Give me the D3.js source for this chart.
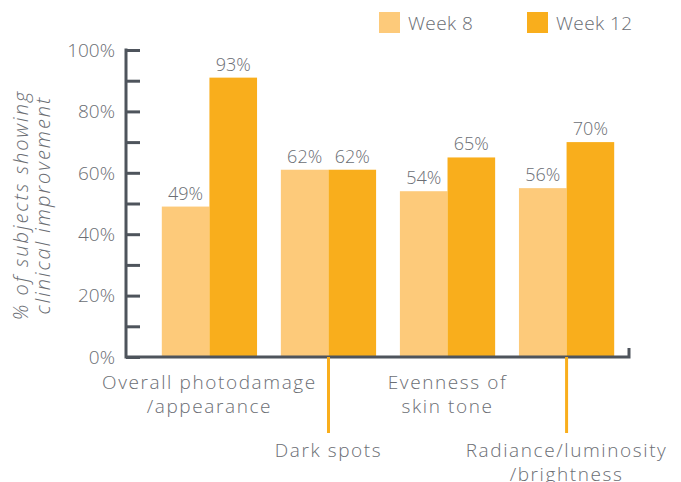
<!DOCTYPE html>
<html>
<head>
<meta charset="utf-8">
<script src="https://cdn.jsdelivr.net/npm/d3@7"></script>
<style>
  body { margin: 0; background: #fff; }
  text { font-family: "Open Sans", "DejaVu Sans", sans-serif; font-weight: 300; fill: #6b6e74; }
</style>
</head>
<body>
<svg class="chart"></svg>
<script>
var width = 681,
    height = 482;

var categories = ["Overall photodamage\n/appearance", "Dark spots", "Evenness of\nskin tone", "Radiance/luminosity\n/brightness"];
var series = ["Week 8", "Week 12"];
var week8 = [49, 61, 54, 55];
var week12 = [91, 61, 65, 70];
var week8Labels = ["49%", "62%", "54%", "56%"];
var week12Labels = ["93%", "62%", "65%", "70%"];
var yTicks = [0, 10, 20, 30, 40, 50, 60, 70, 80, 90, 100];

var colors = { "Week 8": "#fdca7a", "Week 12": "#f9ae1c" };
var axisColor = "#4e545c";

var chart = d3.select(".chart")
    .attr("width", width)
    .attr("height", height);

var y = d3.scaleLinear()
    .domain([0, 100])
    .range([357, 50]);

var x = d3.scaleBand()
    .domain(categories)
    .range([138, 638])
    .paddingInner(0.2)
    .paddingOuter(0.2);

var x1 = d3.scaleBand()
    .domain(series)
    .range([0, x.bandwidth()]);

var rows = categories.map(function(c, i) {
  return { cat: c, i: i, values: [
    { key: "Week 8", value: week8[i], label: week8Labels[i] },
    { key: "Week 12", value: week12[i], label: week12Labels[i] }
  ] };
});

// bars
var group = chart.selectAll("g.group")
    .data(rows)
  .enter().append("g")
    .attr("class", "group")
    .attr("transform", function(d) { return "translate(" + x(d.cat) + ",0)"; });

group.selectAll("rect")
    .data(function(d) { return d.values; })
  .enter().append("rect")
    .attr("x", function(d) { return x1(d.key); })
    .attr("width", x1.bandwidth())
    .attr("y", function(d) { return y(d.value); })
    .attr("height", function(d) { return y(0) - y(d.value); })
    .attr("fill", function(d) { return colors[d.key]; });

group.selectAll("text.val")
    .data(function(d) { return d.values; })
  .enter().append("text")
    .attr("class", "val")
    .attr("x", function(d) { return x1(d.key) + x1.bandwidth() / 2; })
    .attr("y", function(d) { return y(d.value) - 7; })
    .attr("text-anchor", "middle")
    .style("font-size", "18px")
    .text(function(d) { return d.label; });

// y axis
var yAxis = d3.axisRight(y)
    .tickValues(yTicks)
    .tickSize(14)
    .tickFormat("");

var ya = chart.append("g")
    .attr("transform", "translate(126,0)")
    .call(yAxis);
ya.select(".domain").remove();
ya.selectAll(".tick line").attr("stroke", axisColor).attr("stroke-width", 3);

chart.append("line")
    .attr("x1", 126).attr("x2", 126)
    .attr("y1", y(100) - 1.5).attr("y2", y(0) + 1.5)
    .attr("stroke", axisColor).attr("stroke-width", 3);

chart.selectAll("text.ytick")
    .data(yTicks.filter(function(t) { return t % 20 === 0; }))
  .enter().append("text")
    .attr("class", "ytick")
    .attr("x", 115)
    .attr("y", function(d) { return y(d); })
    .attr("dy", "0.36em")
    .attr("text-anchor", "end")
    .style("font-size", "19px")
    .text(function(d) { return d + "%"; });

// x axis line with end tick
chart.append("path")
    .attr("d", "M126," + y(0) + "H629V" + (y(0) - 9))
    .attr("fill", "none")
    .attr("stroke", axisColor)
    .attr("stroke-width", 3);

// category labels (2nd and 4th dropped with leader lines)
rows.forEach(function(d) {
  var cx = x(d.cat) + x.bandwidth() / 2;
  var drop = d.i % 2 === 1;
  var base = drop ? 457 : 389;
  if (drop) {
    chart.append("line")
      .attr("x1", cx).attr("x2", cx)
      .attr("y1", y(0)).attr("y2", 433)
      .attr("stroke", colors["Week 12"])
      .attr("stroke-width", 3);
  }
  var t = chart.append("text")
      .attr("text-anchor", "middle")
      .style("font-size", "19px")
      .style("letter-spacing", "1.6px");
  d.cat.split("\n").forEach(function(line, k) {
    t.append("tspan")
      .attr("x", cx)
      .attr("y", base + k * 23.5)
      .text(line);
  });
});

// y axis title
var title = chart.append("text")
    .attr("transform", "translate(0,205) rotate(-90)")
    .attr("text-anchor", "middle")
    .style("font-size", "20px")
    .style("font-style", "italic")
    .style("letter-spacing", "2px");
title.append("tspan").attr("x", 0).attr("y", 28).text("% of subjects showing");
title.append("tspan").attr("x", 0).attr("y", 50).text("clinical improvement");

// legend
var legendX = [379, 527];
var legend = chart.selectAll("g.legend")
    .data(series)
  .enter().append("g")
    .attr("class", "legend")
    .attr("transform", function(d, i) { return "translate(" + legendX[i] + ",12)"; });

legend.append("rect")
    .attr("width", 21)
    .attr("height", 21)
    .attr("fill", function(d) { return colors[d]; });

legend.append("text")
    .attr("x", 29)
    .attr("y", 18)
    .style("font-size", "19px")
    .style("letter-spacing", "0.4px")
    .text(function(d) { return d; });
</script>
</body>
</html>
